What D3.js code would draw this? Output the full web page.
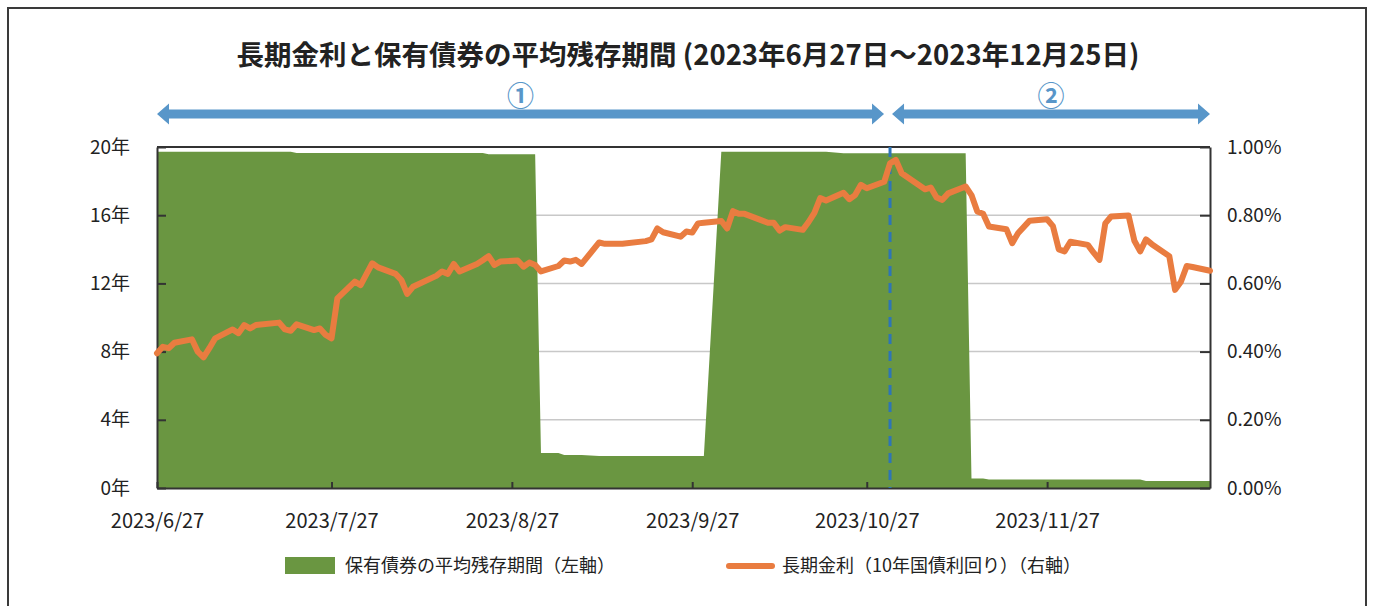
<!DOCTYPE html>
<html>
<head>
<meta charset="utf-8">
<script src="https://cdn.jsdelivr.net/npm/d3@7"></script>
<style>
  body { margin: 0; background: #fff; }
  svg { display: block; font-family: "Noto Sans CJK JP", "Noto Sans", sans-serif; }
  .axis text { fill: #222; font-size: 19px; font-family: "Noto Sans CJK JP", "Noto Sans", sans-serif; }
  .axis.x text { font-size: 20px; }
  .axis path, .axis line { stroke: #333; stroke-width: 2; }
</style>
</head>
<body>
<svg id="chart" width="1375" height="606"></svg>
<script>
// 長期金利（10年国債利回り, %）
const rateDates = [
  "2023-06-27","2023-06-28","2023-06-29","2023-06-30","2023-07-03","2023-07-04","2023-07-05","2023-07-06","2023-07-07",
  "2023-07-10","2023-07-11","2023-07-12","2023-07-13","2023-07-14","2023-07-18","2023-07-19","2023-07-20","2023-07-21",
  "2023-07-24","2023-07-25","2023-07-26","2023-07-27","2023-07-28","2023-07-31","2023-08-01","2023-08-02","2023-08-03",
  "2023-08-04","2023-08-07","2023-08-08","2023-08-09","2023-08-10","2023-08-14","2023-08-15","2023-08-16","2023-08-17",
  "2023-08-18","2023-08-21","2023-08-22","2023-08-23","2023-08-24","2023-08-25","2023-08-28","2023-08-29","2023-08-30",
  "2023-08-31","2023-09-01","2023-09-04","2023-09-05","2023-09-06","2023-09-07","2023-09-08","2023-09-11","2023-09-12",
  "2023-09-13","2023-09-14","2023-09-15","2023-09-19","2023-09-20","2023-09-21","2023-09-22","2023-09-25","2023-09-26",
  "2023-09-27","2023-09-28","2023-09-29","2023-10-02","2023-10-03","2023-10-04","2023-10-05","2023-10-06","2023-10-10",
  "2023-10-11","2023-10-12","2023-10-13","2023-10-16","2023-10-17","2023-10-18","2023-10-19","2023-10-20","2023-10-23",
  "2023-10-24","2023-10-25","2023-10-26","2023-10-27","2023-10-30","2023-10-31","2023-11-01","2023-11-02","2023-11-06",
  "2023-11-07","2023-11-08","2023-11-09","2023-11-10","2023-11-13","2023-11-14","2023-11-15","2023-11-16","2023-11-17",
  "2023-11-20","2023-11-21","2023-11-22","2023-11-24","2023-11-27","2023-11-28","2023-11-29","2023-11-30","2023-12-01",
  "2023-12-04","2023-12-05","2023-12-06","2023-12-07","2023-12-08","2023-12-11","2023-12-12","2023-12-13","2023-12-14",
  "2023-12-15","2023-12-18","2023-12-19","2023-12-20","2023-12-21","2023-12-22","2023-12-25"
]
const rateValues = [
  0.395,0.414,0.410,0.426,0.436,0.400,0.383,0.410,0.439,
  0.465,0.454,0.478,0.468,0.478,0.485,0.465,0.461,0.480,
  0.463,0.468,0.449,0.439,0.556,0.605,0.595,0.627,0.659,
  0.647,0.628,0.610,0.569,0.590,0.622,0.635,0.628,0.657,
  0.635,0.657,0.668,0.680,0.654,0.664,0.667,0.649,0.661,
  0.654,0.635,0.651,0.667,0.664,0.669,0.657,0.720,0.716,
  0.716,0.716,0.716,0.724,0.729,0.761,0.750,0.737,0.752,
  0.749,0.776,0.778,0.783,0.761,0.812,0.804,0.804,0.778,
  0.778,0.755,0.765,0.757,0.780,0.807,0.850,0.843,0.866,
  0.847,0.859,0.889,0.879,0.898,0.952,0.962,0.923,0.876,
  0.881,0.852,0.845,0.864,0.884,0.859,0.811,0.804,0.767,
  0.759,0.718,0.747,0.784,0.788,0.768,0.700,0.694,0.722,
  0.713,0.690,0.669,0.776,0.796,0.799,0.725,0.694,0.729,
  0.715,0.680,0.581,0.605,0.651,0.648,0.637
]

// 保有債券の平均残存期間（年）
const durDates = [
  "2023-06-27","2023-07-20","2023-07-21","2023-08-22","2023-08-23","2023-08-31","2023-09-01","2023-09-04",
  "2023-09-05","2023-09-08","2023-09-11","2023-09-29","2023-10-02","2023-10-20","2023-10-23","2023-11-13",
  "2023-11-14","2023-11-16","2023-11-17","2023-12-13","2023-12-14","2023-12-25"
]
const durValues = [
  19.72,19.72,19.65,19.65,19.57,19.57,2.05,2.05,
  1.94,1.94,1.88,1.88,19.72,19.72,19.63,19.63,
  0.56,0.56,0.50,0.50,0.41,0.41
]

const xTickDates = ["2023-06-27","2023-07-27","2023-08-27","2023-09-27","2023-10-27","2023-11-27"]
const leftTicks = [0, 4, 8, 12, 16, 20]
const rightTicks = [0, 0.2, 0.4, 0.6, 0.8, 1.0]
const markerDate = "2023-10-31"
const periodLabels = ["①", "②"]

const title = "長期金利と保有債券の平均残存期間 (2023年6月27日～2023年12月25日)"
const legendArea = "保有債券の平均残存期間（左軸）"
const legendLine = "長期金利（10年国債利回り）（右軸）"

const parse = d3.timeParse("%Y-%m-%d")
const green = "#6a9641"
const orange = "#e97c40"
const blue = "#5896c9"

const svg = d3.select("#chart")
const plot = { left: 157, right: 1210, top: 147, bottom: 488 }

const x = d3.scaleTime()
  .domain([parse("2023-06-27"), parse("2023-12-25")])
  .range([plot.left, plot.right])
const yLeft = d3.scaleLinear().domain([0, 20]).range([plot.bottom, plot.top])
const yRight = d3.scaleLinear().domain([0, 1]).range([plot.bottom, plot.top])

const rate = rateDates.map((d, i) => ({ date: parse(d), value: rateValues[i] }))
const dur = durDates.map((d, i) => ({ date: parse(d), value: durValues[i] }))

// outer frame
svg.append("rect")
  .attr("x", 8).attr("y", 8)
  .attr("width", 1358).attr("height", 620)
  .attr("fill", "none").attr("stroke", "#3a3a3a").attr("stroke-width", 2)

svg.append("text")
  .attr("x", 688).attr("y", 65)
  .attr("text-anchor", "middle")
  .style("font-size", "27.5px").style("font-weight", "bold").style("fill", "#222")
  .text(title)

// gridlines (behind area)
svg.append("g").selectAll("line")
  .data(leftTicks.filter(d => d > 0 && d < 20))
  .join("line")
  .attr("x1", plot.left).attr("x2", plot.right)
  .attr("y1", d => yLeft(d)).attr("y2", d => yLeft(d))
  .attr("stroke", "#c8c8c8").attr("stroke-width", 1.5)

svg.append("path")
  .datum(dur)
  .attr("fill", green)
  .attr("d", d3.area().x(d => x(d.date)).y0(yLeft(0)).y1(d => yLeft(d.value)))

// axes
svg.append("g")
  .attr("class", "axis")
  .attr("transform", `translate(${plot.left},0)`)
  .call(d3.axisLeft(yLeft).tickValues(leftTicks).tickSize(-9).tickSizeOuter(0).tickPadding(27).tickFormat(d => d + "年"))

svg.append("g")
  .attr("class", "axis")
  .attr("transform", `translate(${plot.right},0)`)
  .call(d3.axisRight(yRight).tickValues(rightTicks).tickSize(-10).tickSizeOuter(0).tickPadding(17).tickFormat(d => d.toFixed(2) + "%"))

svg.append("g")
  .attr("class", "axis x")
  .attr("transform", `translate(0,${plot.bottom})`)
  .call(d3.axisBottom(x).tickValues(xTickDates.map(parse)).tickSize(-6).tickSizeOuter(0).tickPadding(26).tickFormat(d3.timeFormat("%Y/%-m/%-d")))

svg.append("line")
  .attr("x1", plot.left).attr("x2", plot.right)
  .attr("y1", plot.top).attr("y2", plot.top)
  .attr("stroke", "#333").attr("stroke-width", 2)

// dashed marker
svg.append("line")
  .attr("x1", x(parse(markerDate))).attr("x2", x(parse(markerDate)))
  .attr("y1", plot.top).attr("y2", plot.bottom)
  .attr("stroke", "#2e75b6").attr("stroke-width", 3)
  .attr("stroke-dasharray", "10,7")

svg.append("path")
  .datum(rate)
  .attr("fill", "none")
  .attr("stroke", orange).attr("stroke-width", 6)
  .attr("stroke-linejoin", "round").attr("stroke-linecap", "round")
  .attr("d", d3.line().x(d => x(d.date)).y(d => yRight(d.value)))

// period arrows
function doubleArrow(x0, x1, yc) {
  const bar = 4.5, head = 10.5, len = 12
  return `M${x0},${yc} L${x0 + len},${yc - head} L${x0 + len},${yc - bar} L${x1 - len},${yc - bar} L${x1 - len},${yc - head}` +
    ` L${x1},${yc} L${x1 - len},${yc + head} L${x1 - len},${yc + bar} L${x0 + len},${yc + bar} L${x0 + len},${yc + head} Z`
}
const mx = x(parse(markerDate))
const periods = [[plot.left, mx - 6], [mx + 2, plot.right]]
periods.forEach((p, i) => {
  svg.append("path").attr("d", doubleArrow(p[0], p[1], 114)).attr("fill", blue)
  svg.append("text")
    .attr("x", (p[0] + p[1]) / 2).attr("y", 106)
    .attr("text-anchor", "middle")
    .style("font-size", "27px").style("font-weight", "bold").style("fill", blue)
    .text(periodLabels[i])
})

// legend
const lg = svg.append("g").style("font-size", "18px").style("fill", "#222")
lg.append("rect").attr("x", 285).attr("y", 557).attr("width", 50).attr("height", 17).attr("fill", green)
lg.append("text").attr("x", 345).attr("y", 572).text(legendArea)
lg.append("line").attr("x1", 729).attr("x2", 772).attr("y1", 566).attr("y2", 566)
  .attr("stroke", orange).attr("stroke-width", 6).attr("stroke-linecap", "round")
lg.append("text").attr("x", 782).attr("y", 572).text(legendLine)
</script>
</body>
</html>
